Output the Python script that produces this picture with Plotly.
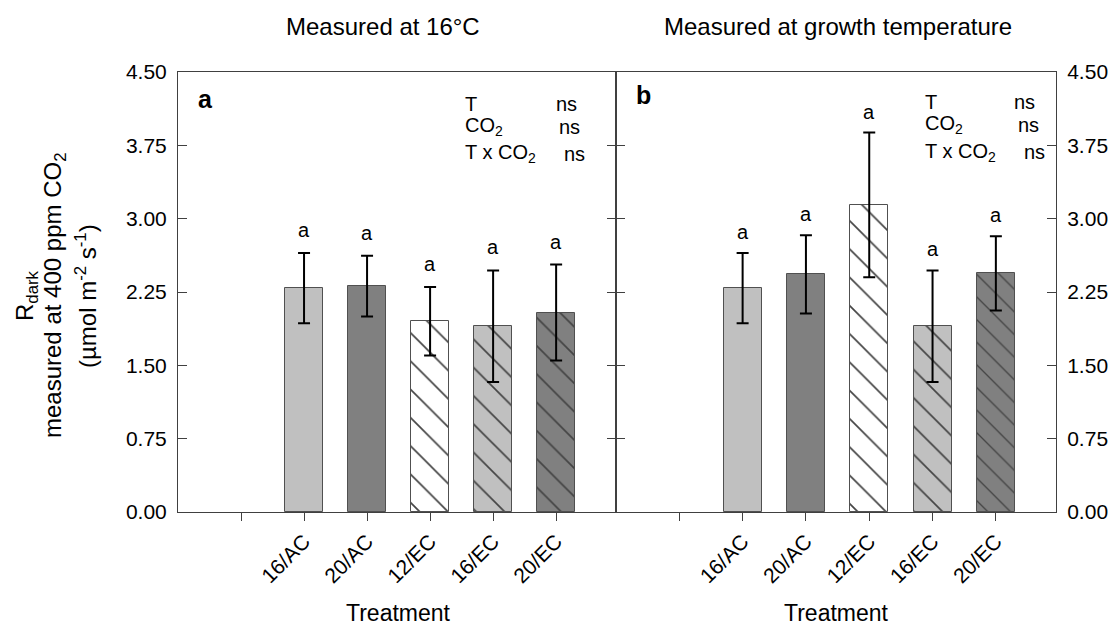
import plotly.graph_objects as go

# ---------------- data ----------------
treatments = ["16/AC", "20/AC", "12/EC", "16/EC", "20/EC"]
tick_labels = [""] + treatments          # first category slot is empty

rdark_16C = [2.29, 2.31, 1.95, 1.90, 2.04]
err_16C = [0.36, 0.31, 0.35, 0.57, 0.49]

rdark_growth = [2.29, 2.43, 3.14, 1.90, 2.44]
err_growth = [0.36, 0.40, 0.74, 0.57, 0.38]

letters_16C = ["a", "a", "a", "a", "a"]
letters_growth = ["a", "a", "a", "a", "a"]

fill_colors = ["#c0c0c0", "#808080", "#ffffff", "#c0c0c0", "#808080"]
hatch = ["", "", "\\", "\\", "\\"]

panel_titles = ["Measured at 16°C", "Measured at growth temperature"]
stats_terms = ["T", "CO<sub>2</sub>", "T x CO<sub>2</sub>"]
stats_vals = ["ns", "ns", "ns"]
yticks = [0, 0.75, 1.5, 2.25, 3.0, 3.75, 4.5]

# ---------------- layout helpers ----------------
W, H = 1110, 629
FONT = "Liberation Sans, Arial, sans-serif"


def px(x):
    return x / W


def py(y):
    return 1 - y / H


x_pos = [i + 2 for i in range(len(treatments))]
tick_pos = list(range(1, len(tick_labels) + 1))

fig = go.Figure()

for k, (vals, errs, xa, ya, sizes) in enumerate([
    (rdark_16C, err_16C, "x", "y", [20, 20, 20, 20, 20]),
    (rdark_growth, err_growth, "x2", "y2", [20, 20, 20, 20, 16]),
]):
    fig.add_trace(go.Bar(
        x=x_pos, y=vals, width=0.6, xaxis=xa, yaxis=ya,
        marker=dict(
            color=fill_colors,
            line=dict(color="#505050", width=1),
            pattern=dict(shape=hatch, fgcolor="#000000", fgopacity=1,
                         size=sizes, solidity=0.085, fillmode="overlay"),
        ),
        error_y=dict(type="data", array=errs, visible=True, color="#000000",
                     thickness=2, width=6),
        showlegend=False, hoverinfo="skip",
    ))

# significance letters above error bars
for vals, errs, letters, xa, ya, shift in [
    (rdark_16C, err_16C, letters_16C, "x", "y", 23),
    (rdark_growth, err_growth, letters_growth, "x2", "y2", 21),
]:
    for xp, v, e, L in zip(x_pos, vals, errs, letters):
        fig.add_annotation(x=xp, y=v + e, xref=xa, yref=ya, text=L,
                           showarrow=False, yanchor="middle", yshift=shift,
                           font=dict(family=FONT, size=20, color="#000"))

axis_col = "#404040"
common_x = dict(range=[0, 6.95], tickvals=tick_pos, ticktext=tick_labels,
                tickangle=-45, ticks="outside", ticklen=8, tickcolor=axis_col,
                showline=True, linecolor=axis_col, linewidth=1, mirror=True,
                showgrid=False, zeroline=False, automargin=False,
                tickfont=dict(family=FONT, size=21, color="#000"))
common_y = dict(range=[0, 4.5], tickvals=yticks, tickformat=".2f",
                ticks="inside", ticklen=9, tickcolor=axis_col,
                showline=True, linecolor=axis_col, linewidth=1, mirror="ticks",
                showgrid=False, zeroline=False, ticklabelstandoff=6,
                automargin=False,
                tickfont=dict(family=FONT, size=21, color="#000"))

y0, y1 = py(512), py(72)
fig.update_layout(
    width=W, height=H,
    margin=dict(l=0, r=0, t=0, b=0, pad=0, autoexpand=False),
    paper_bgcolor="white", plot_bgcolor="white",
    font=dict(family=FONT, color="#000"),
    bargap=0,
    xaxis=dict(domain=[px(178), px(616)], anchor="y", **common_x),
    xaxis2=dict(domain=[px(616), px(1056)], anchor="y2", **common_x),
    yaxis=dict(domain=[y0, y1], anchor="x", side="left", **common_y),
    yaxis2=dict(domain=[y0, y1], anchor="x2", side="right", **common_y),
)

# panel titles
for t, xc in zip(panel_titles, [383, 838]):
    fig.add_annotation(x=px(xc), y=py(27), xref="paper", yref="paper", text=t,
                       showarrow=False, xanchor="center", yanchor="middle",
                       font=dict(family=FONT, size=24, color="#000"))

# x-axis titles
for xc in [398, 836]:
    fig.add_annotation(x=px(xc), y=py(613), xref="paper", yref="paper",
                       text="Treatment", showarrow=False, xanchor="center",
                       yanchor="middle",
                       font=dict(family=FONT, size=23, color="#000"))

# panel letters
for L, xl, yc in [("a", 196, 99), ("b", 634, 95)]:
    fig.add_annotation(x=px(xl), y=py(yc), xref="paper", yref="paper",
                       text="<b>%s</b>" % L, showarrow=False, xanchor="left",
                       yanchor="middle",
                       font=dict(family=FONT, size=25, color="#000"))

# statistics block
for xt, xn, ys in [(463, [554, 557, 562], [104, 127, 154]),
                   (923, [1012, 1016, 1022], [102, 125, 152])]:
    for term, val, xv, yv in zip(stats_terms, stats_vals, xn, ys):
        fig.add_annotation(x=px(xt), y=py(yv), xref="paper", yref="paper",
                           text=term, showarrow=False, xanchor="left",
                           yanchor="middle",
                           font=dict(family=FONT, size=20, color="#000"))
        fig.add_annotation(x=px(xv), y=py(yv), xref="paper", yref="paper",
                           text=val, showarrow=False, xanchor="left",
                           yanchor="middle",
                           font=dict(family=FONT, size=20, color="#000"))

# y-axis title (three rotated lines)
ytitle = ["R<sub>dark</sub>",
          "measured at 400 ppm CO<sub>2</sub>",
          "(µmol m<sup>-2</sup> s<sup>-1</sup>)"]
for line, xc in zip(ytitle, [26, 54, 86]):
    fig.add_annotation(x=px(xc), y=py(296), xref="paper", yref="paper",
                       text=line, showarrow=False, textangle=-90,
                       xanchor="center", yanchor="middle",
                       font=dict(family=FONT, size=24, color="#000"))

fig.write_html("out.html")
